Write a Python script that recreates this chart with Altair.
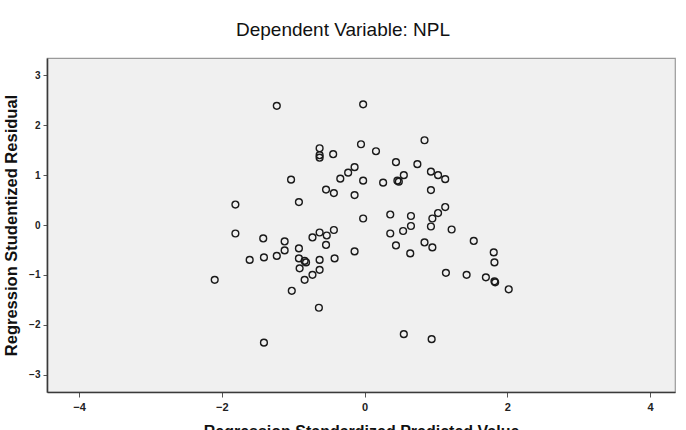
import altair as alt
import pandas as pd

# Standardized predicted values (x) and studentized residuals (y)
predicted = [
    -1.23, -0.02, -0.63, -0.63, -0.63, -0.44, -0.05, 0.16, -1.03, -0.92,
    -1.81, -0.54, -0.43, -0.34, -0.23, -0.14, -0.02, 0.26, -0.14, -0.02,
    0.84, 0.44, 0.74, 0.93, 1.03, 1.13, 0.55, 0.46, 0.48, 0.93,
    1.13, 1.03, 0.95, 0.65, 0.36, 0.65, 0.54, 0.36, 0.93, 1.22,
    0.44, 0.64, 0.84, 0.95, 1.53, 1.81, 1.82, 1.14, 1.43, 1.70,
    1.82, 1.83, 2.02, 0.55, 0.94, -1.81, -1.42, -1.12, -1.12, -1.23,
    -1.41, -1.61, -2.10, -1.41, -1.02, -0.64, -0.92, -0.92, -0.84, -0.82,
    -0.91, -0.63, -0.63, -0.73, -0.84, -0.42, -0.14, -0.73, -0.63, -0.53,
    -0.43, -0.54,
]
residual = [
    2.39, 2.42, 1.54, 1.40, 1.35, 1.42, 1.62, 1.48, 0.91, 0.46,
    0.41, 0.71, 0.64, 0.93, 1.05, 1.16, 0.89, 0.85, 0.60, 0.13,
    1.70, 1.26, 1.22, 1.07, 1.00, 0.92, 1.00, 0.89, 0.87, 0.70,
    0.36, 0.24, 0.13, 0.18, 0.21, -0.02, -0.12, -0.17, -0.03, -0.09,
    -0.41, -0.57, -0.35, -0.45, -0.32, -0.55, -0.75, -0.96, -1.00, -1.05,
    -1.13, -1.15, -1.29, -2.19, -2.29, -0.17, -0.27, -0.33, -0.51, -0.62,
    -0.65, -0.70, -1.10, -2.36, -1.32, -1.66, -0.47, -0.67, -0.72, -0.75,
    -0.87, -0.70, -0.90, -1.00, -1.10, -0.67, -0.53, -0.25, -0.15, -0.21,
    -0.10, -0.40,
]

x_ticks = [-4, -2, 0, 2, 4]
y_ticks = [-3, -2, -1, 0, 1, 2, 3]

df = pd.DataFrame({"pred": predicted, "resid": residual})

font = "Liberation Sans"

chart = (
    alt.Chart(df)
    .mark_point(shape="circle", filled=False, size=46, strokeWidth=1.4, color="#1a1a1a", opacity=1)
    .encode(
        x=alt.X(
            "pred:Q",
            scale=alt.Scale(domain=[-4.45, 4.35], nice=False, zero=False),
            axis=alt.Axis(
                values=x_ticks,
                grid=False,
                title="Regression Standardized Predicted Value",
                titleFontSize=16,
                titleFontWeight="bold",
                titlePadding=11,
                labelFontSize=11,
                labelFontWeight="bold",
                labelPadding=4,
                tickSize=5,
            ),
        ),
        y=alt.Y(
            "resid:Q",
            scale=alt.Scale(domain=[-3.35, 3.35], nice=False, zero=False),
            axis=alt.Axis(
                values=y_ticks,
                grid=False,
                title="Regression Studentized Residual",
                titleFontSize=16.5,
                titleFontWeight="bold",
                titlePadding=9,
                labelFontSize=10,
                labelFontWeight="bold",
                labelPadding=3,
                tickSize=4,
            ),
        ),
    )
    .properties(
        width=628,
        height=334,
        background="white",
        title=alt.TitleParams(
            "Dependent Variable: NPL",
            fontSize=19,
            fontWeight="normal",
            font=font,
            color="#111",
            offset=18,
            dx=-18,
            anchor="middle",
        ),
        autosize=alt.AutoSizeParams(type="none"),
        padding={"left": 47, "top": 58, "right": 11, "bottom": 38},
    )
    .configure_view(fill="#f0f0f0", stroke="#9a9a9a", strokeWidth=1.2)
    .configure_axis(
        grid=False,
        domainColor="#3a3a3a",
        domainWidth=1.6,
        tickColor="#555",
        tickWidth=1,
        labelColor="#222",
        titleColor="#111",
        labelFont=font,
        titleFont=font,
    )
)

chart.save("out.html", embed_options={"renderer": "svg", "actions": False})
